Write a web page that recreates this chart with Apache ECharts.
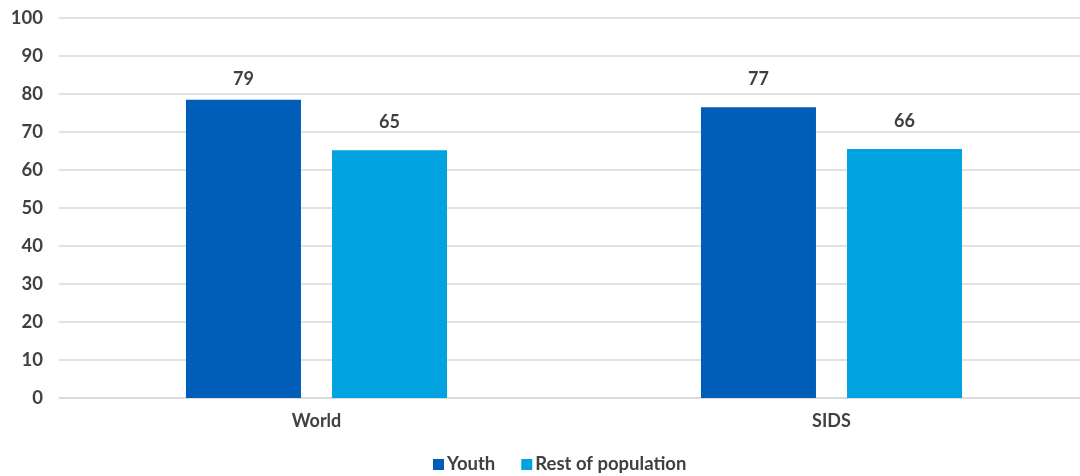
<!DOCTYPE html>
<html><head><meta charset="utf-8">
<script src="https://cdn.jsdelivr.net/npm/echarts@6/dist/echarts.min.js"></script>
<style>html,body{margin:0;padding:0;background:#fff}#c{width:1080px;height:476px}</style>
</head><body><div id="c"></div>
<script>
const categories = ['World', 'SIDS'];
const youth = [78.5, 76.5];
const restOfPopulation = [65.2, 65.5];
const yTicks = [0, 10, 20, 30, 40, 50, 60, 70, 80, 90, 100];

const font = 'Lato, "Noto Sans", sans-serif';
const txt = '#404040';
const chart = echarts.init(document.getElementById('c'));
const lbl = {show: true, position: 'top', distance: 19, color: txt, fontFamily: font, fontSize: 18, fontWeight: 'bold', formatter: p => Math.round(p.value)};
const youthData = youth.map((v, i) => i === 0 ? {value: v, label: {distance: 12}} : v);
chart.setOption({
  animation: false,
  grid: {left: 59, width: 1030, top: 18, bottom: 78, outerBoundsMode: 'none', containLabel: false},
  legend: {top: 450, left: 428, itemWidth: 11, itemHeight: 11, itemGap: 26, icon: 'rect',
    textStyle: {color: txt, fontFamily: font, fontSize: 18.5, fontWeight: 'bold', padding: [0,0,0,-2]},
    data: ['Youth', 'Rest of population']},
  xAxis: {type: 'category', data: categories,
    axisLine: {show: true, lineStyle: {color: '#d9d9d9', width: 1.5}}, axisTick: {show: false},
    axisLabel: {color: txt, fontFamily: font, fontSize: 18, fontWeight: 'bold', margin: 14}},
  yAxis: {type: 'value', min: yTicks[0], max: yTicks[yTicks.length-1], interval: 10,
    axisLine: {show: false}, axisTick: {show: false},
    axisLabel: {color: txt, fontFamily: font, fontSize: 18.5, fontWeight: 'bold', margin: 16},
    splitLine: {lineStyle: {color: '#d9d9d9', width: 1.5}}},
  series: [
    {name: 'Youth', type: 'bar', data: youthData, barWidth: 115, barGap: '27%', itemStyle: {color: '#005EB8'}, label: lbl},
    {name: 'Rest of population', type: 'bar', data: restOfPopulation, barWidth: 115, itemStyle: {color: '#00A3E0'}, label: lbl}
  ]
});
</script></body></html>
